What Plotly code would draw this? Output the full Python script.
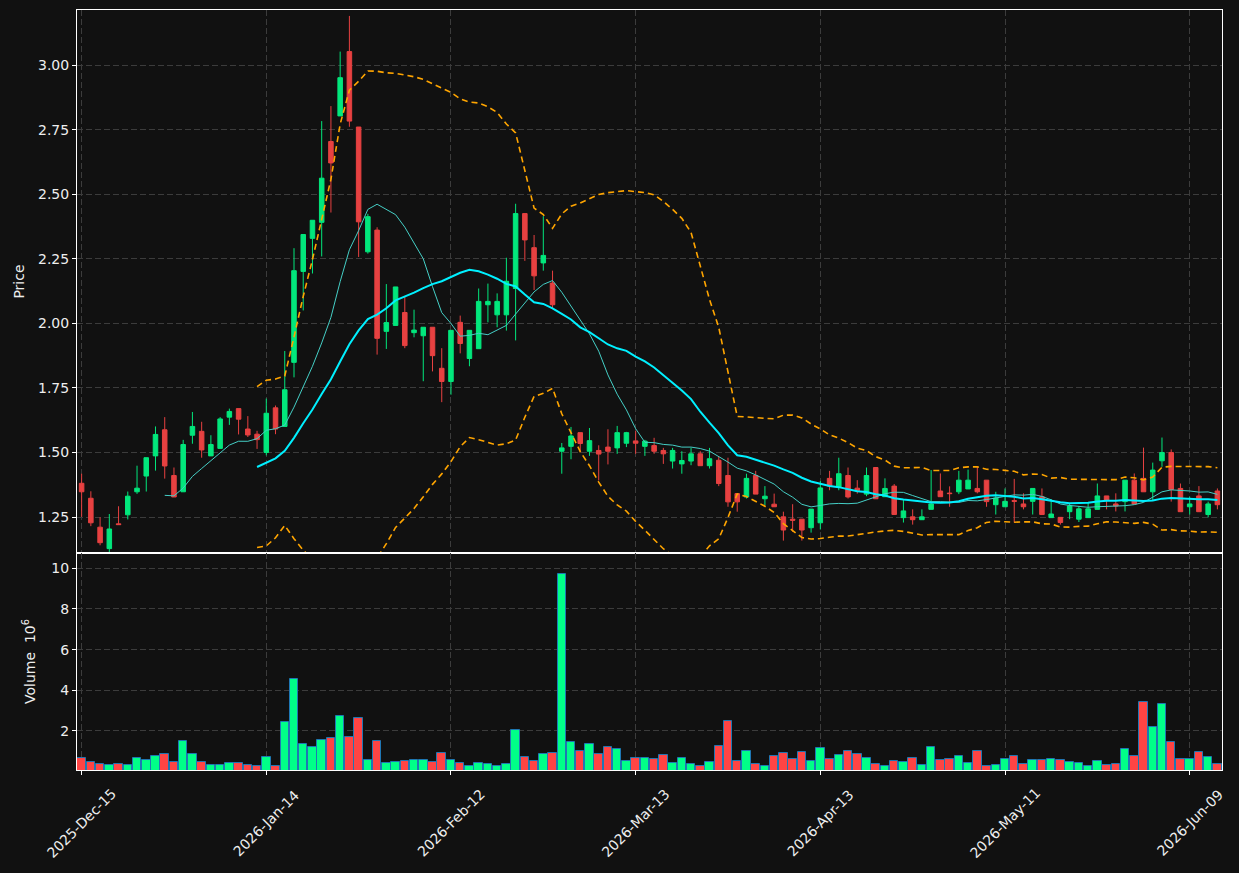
import plotly.graph_objects as go
from plotly.subplots import make_subplots
import pandas as pd

# ---- data ----
opens = [1.381, 1.323, 1.211, 1.128, 1.224, 1.259, 1.348, 1.409, 1.487, 1.588,
         1.411, 1.348, 1.567, 1.582, 1.487, 1.516, 1.637, 1.670, 1.591, 1.571,
         1.500, 1.673, 1.601, 1.849, 2.201, 2.329, 2.391, 2.704, 2.803, 3.052,
         2.760, 2.277, 2.361, 1.969, 1.992, 2.042, 1.964, 1.952, 1.985, 1.826,
         1.775, 2.004, 1.864, 1.902, 2.072, 2.033, 2.033, 2.135, 2.425, 2.293,
         2.234, 2.156, 1.505, 1.524, 1.577, 1.505, 1.508, 1.521, 1.518, 1.536,
         1.545, 1.524, 1.527, 1.508, 1.467, 1.456, 1.467, 1.495, 1.449, 1.470,
         1.411, 1.341, 1.328, 1.411, 1.321, 1.300, 1.251, 1.242, 1.242, 1.209,
         1.228, 1.400, 1.367, 1.411, 1.362, 1.339, 1.442, 1.329, 1.370, 1.248,
         1.251, 1.240, 1.280, 1.351, 1.343, 1.348, 1.359, 1.361, 1.393, 1.298,
         1.290, 1.314, 1.301, 1.311, 1.329, 1.248, 1.249, 1.271, 1.242, 1.248,
         1.280, 1.332, 1.301, 1.310, 1.393, 1.400, 1.348, 1.468, 1.500, 1.361,
         1.290, 1.332, 1.260, 1.351]
highs = [1.418, 1.350, 1.249, 1.262, 1.292, 1.349, 1.449, 1.480, 1.601, 1.637,
         1.442, 1.549, 1.657, 1.619, 1.567, 1.637, 1.670, 1.670, 1.641, 1.584,
         1.709, 1.682, 1.893, 2.291, 2.344, 2.399, 2.783, 2.841, 3.052, 3.190,
         2.760, 2.424, 2.372, 2.152, 2.141, 2.104, 2.053, 1.985, 1.985, 1.904,
         1.973, 2.030, 1.973, 2.135, 2.154, 2.116, 2.254, 2.463, 2.425, 2.342,
         2.415, 2.204, 1.537, 1.599, 1.577, 1.595, 1.528, 1.590, 1.603, 1.580,
         1.585, 1.549, 1.557, 1.518, 1.518, 1.505, 1.518, 1.505, 1.518, 1.483,
         1.480, 1.341, 1.418, 1.429, 1.370, 1.341, 1.271, 1.300, 1.242, 1.281,
         1.390, 1.429, 1.480, 1.442, 1.393, 1.442, 1.442, 1.400, 1.378, 1.319,
         1.280, 1.280, 1.432, 1.419, 1.369, 1.429, 1.434, 1.445, 1.393, 1.348,
         1.361, 1.398, 1.342, 1.361, 1.361, 1.319, 1.249, 1.303, 1.293, 1.307,
         1.380, 1.332, 1.342, 1.393, 1.419, 1.519, 1.461, 1.558, 1.512, 1.380,
         1.329, 1.370, 1.310, 1.361]
lows = [1.251, 1.215, 1.141, 1.110, 1.220, 1.241, 1.340, 1.349, 1.430, 1.399,
        1.328, 1.348, 1.534, 1.480, 1.487, 1.516, 1.607, 1.570, 1.560, 1.514,
        1.489, 1.571, 1.601, 1.791, 2.050, 2.193, 2.259, 2.429, 2.803, 2.761,
        2.257, 2.270, 1.879, 1.901, 1.992, 1.904, 1.946, 1.776, 1.814, 1.695,
        1.724, 1.884, 1.834, 1.902, 2.004, 1.985, 1.972, 1.934, 2.242, 2.129,
        2.204, 2.055, 1.418, 1.474, 1.500, 1.487, 1.392, 1.454, 1.495, 1.521,
        1.495, 1.487, 1.495, 1.456, 1.438, 1.418, 1.451, 1.449, 1.438, 1.370,
        1.290, 1.271, 1.322, 1.339, 1.296, 1.290, 1.159, 1.193, 1.159, 1.190,
        1.202, 1.354, 1.354, 1.322, 1.341, 1.331, 1.321, 1.329, 1.260, 1.229,
        1.221, 1.240, 1.280, 1.329, 1.290, 1.339, 1.359, 1.342, 1.290, 1.260,
        1.290, 1.229, 1.280, 1.260, 1.258, 1.248, 1.221, 1.242, 1.231, 1.248,
        1.280, 1.280, 1.272, 1.272, 1.301, 1.348, 1.316, 1.445, 1.310, 1.271,
        1.260, 1.271, 1.249, 1.280]
closes = [1.348, 1.228, 1.151, 1.204, 1.221, 1.331, 1.362, 1.480, 1.570, 1.448,
          1.328, 1.531, 1.601, 1.510, 1.531, 1.630, 1.659, 1.629, 1.568, 1.550,
          1.652, 1.591, 1.743, 2.204, 2.344, 2.399, 2.562, 2.621, 2.951, 2.783,
          2.393, 2.413, 1.942, 2.003, 2.141, 1.914, 1.974, 1.985, 1.875, 1.775,
          1.973, 1.922, 1.973, 2.085, 2.085, 2.085, 2.163, 2.425, 2.323, 2.184,
          2.263, 2.072, 1.518, 1.564, 1.535, 1.546, 1.494, 1.505, 1.577, 1.577,
          1.536, 1.544, 1.505, 1.495, 1.508, 1.469, 1.495, 1.449, 1.476, 1.380,
          1.309, 1.309, 1.400, 1.339, 1.331, 1.290, 1.200, 1.238, 1.200, 1.281,
          1.363, 1.370, 1.418, 1.328, 1.352, 1.411, 1.321, 1.361, 1.260, 1.274,
          1.240, 1.251, 1.301, 1.329, 1.341, 1.393, 1.393, 1.348, 1.310, 1.324,
          1.311, 1.311, 1.290, 1.361, 1.260, 1.262, 1.229, 1.293, 1.282, 1.282,
          1.332, 1.316, 1.293, 1.393, 1.301, 1.348, 1.432, 1.500, 1.357, 1.271,
          1.301, 1.271, 1.301, 1.298]
volumes_m = [0.67, 0.47, 0.38, 0.33, 0.38, 0.33, 0.67, 0.57, 0.77, 0.87,
             0.47, 1.50, 0.87, 0.47, 0.33, 0.33, 0.43, 0.43, 0.33, 0.28,
             0.72, 0.28, 2.44, 4.55, 1.36, 1.21, 1.55, 1.65, 2.73, 1.70,
             2.63, 0.57, 1.50, 0.43, 0.47, 0.52, 0.57, 0.57, 0.47, 0.92,
             0.57, 0.43, 0.28, 0.43, 0.38, 0.28, 0.38, 2.05, 0.72, 0.52,
             0.87, 0.92, 9.73, 1.46, 1.01, 1.36, 0.87, 1.21, 1.11, 0.52,
             0.67, 0.67, 0.62, 0.82, 0.43, 0.67, 0.38, 0.28, 0.47, 1.26,
             2.49, 0.52, 1.01, 0.38, 0.28, 0.77, 0.92, 0.62, 0.97, 0.52,
             1.16, 0.62, 0.82, 1.01, 0.87, 0.67, 0.38, 0.28, 0.52, 0.47,
             0.67, 0.33, 1.21, 0.57, 0.62, 0.77, 0.43, 1.01, 0.28, 0.33,
             0.62, 0.77, 0.38, 0.57, 0.57, 0.62, 0.57, 0.47, 0.43, 0.28,
             0.52, 0.33, 0.38, 1.11, 0.77, 3.42, 2.19, 3.32, 1.46, 0.62,
             0.62, 0.97, 0.72, 0.38]
tick_positions = [0, 20, 40, 60, 80, 100, 120]
tick_labels = ['2025-Dec-15', '2026-Jan-14', '2026-Feb-12', '2026-Mar-13',
               '2026-Apr-13', '2026-May-11', '2026-Jun-09']

# ---- derived indicators ----
x = list(range(len(closes)))
cs = pd.Series(closes)
ma10 = cs.rolling(10).mean()
ma20 = cs.rolling(20).mean()
sd20 = cs.rolling(20).std(ddof=0)
bb_up = ma20 + 2 * sd20
bb_lo = ma20 - 2 * sd20

UP_C, DN_C = '#02E77C', '#E74141'
UP_V, DN_V = '#00FF88', '#FF4444'
vol_colors = [UP_V if c >= o else DN_V for o, c in zip(opens, closes)]

fig = make_subplots(rows=2, cols=1, shared_xaxes=True, vertical_spacing=0,
                    row_heights=[0.7145, 0.2855])

fig.add_trace(go.Candlestick(
    x=x, open=opens, high=highs, low=lows, close=closes,
    increasing=dict(line=dict(color=UP_C, width=1), fillcolor=UP_C),
    decreasing=dict(line=dict(color=DN_C, width=1), fillcolor=DN_C),
    whiskerwidth=0, showlegend=False, hoverinfo='skip'), row=1, col=1)

fig.add_trace(go.Scatter(x=x, y=ma10, mode='lines',
                         line=dict(color='#45CFC6', width=1),
                         showlegend=False, hoverinfo='skip'), row=1, col=1)
fig.add_trace(go.Scatter(x=x, y=ma20, mode='lines',
                         line=dict(color='#00F0FF', width=2),
                         showlegend=False, hoverinfo='skip'), row=1, col=1)
for band in (bb_up, bb_lo):
    fig.add_trace(go.Scatter(x=x, y=band, mode='lines',
                             line=dict(color='#FFA500', width=1.6, dash='6px,4px'),
                             showlegend=False, hoverinfo='skip'), row=1, col=1)

fig.add_trace(go.Bar(x=x, y=volumes_m, marker=dict(color=vol_colors,
                     line=dict(color='#1F77B4', width=1)),
                     width=0.92, showlegend=False, hoverinfo='skip'), row=2, col=1)

BG = '#111111'
GRID = '#3c3c3c'
FONT = dict(family='DejaVu Sans', size=14, color='#EEEEEE')

axis_common = dict(showline=True, linecolor='white', linewidth=1, mirror=True,
                   showgrid=True, gridcolor=GRID, griddash='6px,3px', gridwidth=1,
                   ticks='outside', ticklen=4, tickcolor='white', zeroline=False,
                   tickfont=FONT)

fig.update_layout(
    width=1239, height=873,
    paper_bgcolor=BG, plot_bgcolor=BG,
    margin=dict(l=77, r=17, t=10, b=103),
    font=FONT, bargap=0,
    xaxis_rangeslider_visible=False,
)
fig.update_xaxes(**axis_common, range=[-0.5, 123.5],
                 tickmode='array', tickvals=tick_positions, ticktext=tick_labels,
                 showticklabels=False)
fig.update_yaxes(**axis_common)
fig.update_yaxes(range=[1.111, 3.213], tickmode='array',
                 tickvals=[1.25, 1.5, 1.75, 2.0, 2.25, 2.5, 2.75, 3.0],
                 ticktext=['1.25', '1.50', '1.75', '2.00', '2.25', '2.50', '2.75', '3.00'],
                 title=dict(text='Price', font=FONT, standoff=10), row=1, col=1)
fig.update_yaxes(range=[0.08, 10.75], tickmode='array', tickvals=[2, 4, 6, 8, 10],
                 title=dict(text='Volume  10<sup>6</sup>', font=FONT, standoff=12),
                 row=2, col=1)

# date labels centred under their ticks, rotated 45 degrees
for pos, lab in zip(tick_positions, tick_labels):
    fig.add_annotation(x=pos, xref='x2', y=-0.0697, yref='paper',
                       text=lab, textangle=-45, showarrow=False,
                       xanchor='center', yanchor='middle', font=FONT)

fig.write_html('out.html')
